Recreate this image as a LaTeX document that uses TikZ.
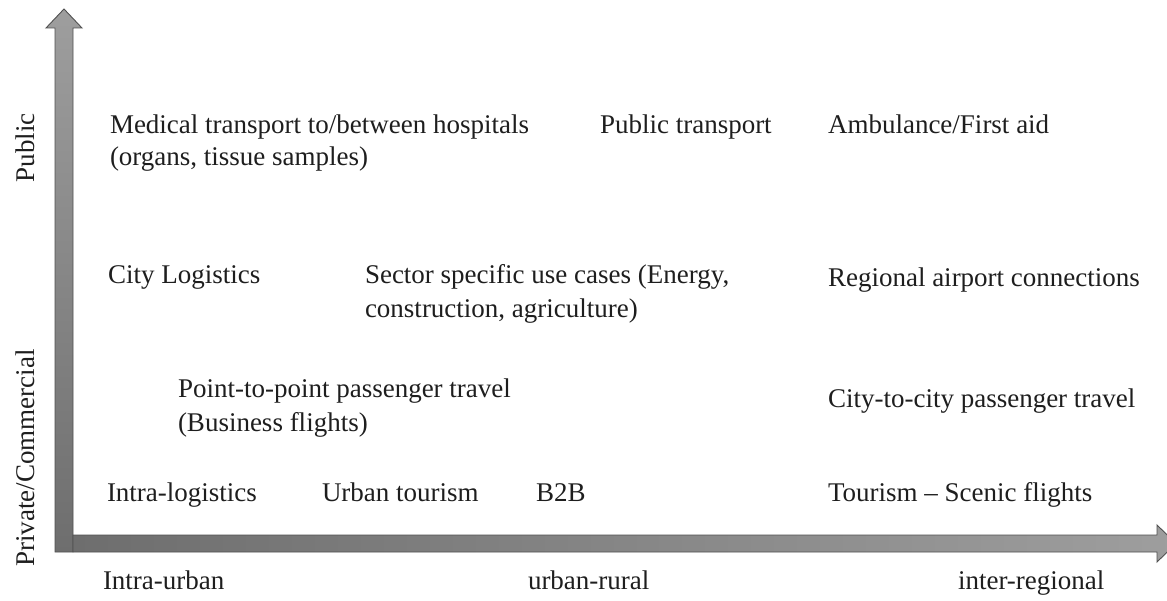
\documentclass[tikz,border=0pt]{standalone}
\usepackage{fontspec}
\setmainfont{Liberation Serif}
\definecolor{txt}{RGB}{30,30,30}
\definecolor{arrlight}{RGB}{158,158,158}
\definecolor{arrdark}{RGB}{110,110,110}
\definecolor{arredge}{RGB}{80,80,80}
\tikzset{
  lbl/.style={inner sep=0pt, outer sep=0pt, anchor=base west, align=left, text=txt,
    font=\fontsize{27}{33}\selectfont},
  axlbl/.style={inner sep=0pt, outer sep=0pt, anchor=base, rotate=90, text=txt,
    font=\fontsize{27}{33}\selectfont},
  axarrow/.style={draw=arredge, line width=0.9pt, line join=miter}
}
\begin{document}
\begin{tikzpicture}[x=1pt,y=-1pt]
\useasboundingbox (0,0) rectangle (1167,601);
% vertical arrow
\path[axarrow, top color=arrlight, bottom color=arrdark]
  (55,552) -- (55,28) -- (46,28) -- (64,9) -- (82,28) -- (73,28) -- (73,552) -- cycle;
% horizontal arrow
\path[axarrow, left color=arrdark, right color=arrlight]
  (73,535) -- (1157,535) -- (1157,525) -- (1176,543.5) -- (1157,562) -- (1157,552) -- (73,552) -- cycle;
% axis labels
\node[axlbl] (pub) at (34,148) {Public};
\node[axlbl] (priv) at (34,458) {Private/Commercial};
\node[lbl] (iu) at (103,589) {Intra-urban};
\node[lbl] (ur) at (528,589) {urban-rural};
\node[lbl] (ir) at (958,589) {inter-regional};
% content (multi-line nodes: base = last line)
\node[lbl, font=\fontsize{27}{32}\selectfont] (med) at (110,166) {Medical transport to/between hospitals\\(organs, tissue samples)};
\node[lbl] (pt) at (600,134) {Public transport};
\node[lbl] (amb) at (828,134) {Ambulance/First aid};
\node[lbl] (cl) at (108,284) {City Logistics};
\node[lbl, font=\fontsize{27}{34}\selectfont] (sec) at (365,318) {Sector specific use cases (Energy,\\construction, agriculture)};
\node[lbl] (rac) at (828,287) {Regional airport connections};
\node[lbl, font=\fontsize{27}{34}\selectfont] (ptp) at (178,431) {Point-to-point passenger travel\\(Business flights)};
\node[lbl] (ctc) at (828,407) {City-to-city passenger travel};
\node[lbl] (il) at (107,501) {Intra-logistics};
\node[lbl] (ut) at (322,501) {Urban tourism};
\node[lbl] (b2b) at (536,501) {B2B};
\node[lbl] (tsf) at (828,501) {Tourism – Scenic flights};
\end{tikzpicture}
\end{document}
